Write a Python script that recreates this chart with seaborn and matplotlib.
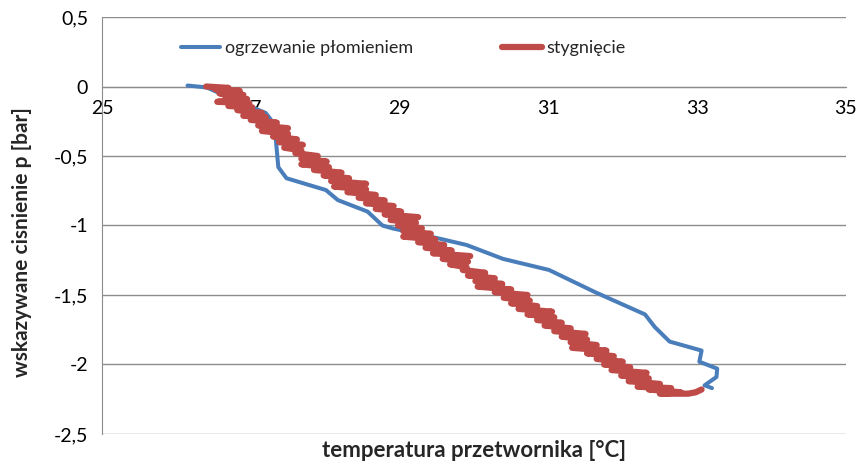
import numpy as np
import pandas as pd
import matplotlib
matplotlib.use("Agg")
import matplotlib.pyplot as plt
import seaborn as sns

# heating curve (blue)
heat_t = [26.15, 26.41, 26.86, 27.20, 27.33, 27.34, 27.37, 27.48, 28.01, 28.17,
          28.57, 28.77, 28.90, 29.19, 29.50, 29.90, 30.39, 31.01, 31.63, 32.30,
          32.43, 32.63, 33.06, 33.03, 33.27, 33.26, 33.10, 33.20]
heat_p = [0.007, -0.007, -0.115, -0.19, -0.28, -0.40, -0.58, -0.66, -0.745, -0.817,
          -0.90, -1.00, -1.02, -1.054, -1.09, -1.14, -1.24, -1.32, -1.48, -1.64,
          -1.73, -1.835, -1.90, -1.98, -2.03, -2.09, -2.15, -2.17]

# cooling curve (red, noisy readings)
cool_t = [26.40, 26.70, 26.52, 26.85, 26.58, 26.90, 26.66, 26.95, 26.55, 26.98,
          26.70, 27.02, 26.82, 27.15, 26.90, 27.20, 27.00, 27.35, 27.10, 27.50,
          27.15, 27.50, 27.30, 27.62, 27.38, 27.70, 27.45, 27.68, 27.60, 27.90,
          27.68, 28.02, 27.68, 28.05, 27.85, 28.22, 27.98, 28.32, 28.08, 28.55,
          28.12, 28.55, 28.30, 28.68, 28.45, 28.80, 28.55, 28.92, 28.68, 29.02,
          28.80, 29.25, 28.88, 29.22, 28.98, 29.30, 29.05, 29.42, 29.05, 29.48,
          29.25, 29.60, 29.35, 29.70, 29.45, 29.95, 29.58, 29.92, 29.68, 29.90,
          29.85, 30.15, 29.92, 30.28, 30.02, 30.38, 30.05, 30.50, 30.28, 30.72,
          30.40, 30.75, 30.50, 30.85, 30.60, 31.05, 30.72, 31.08, 30.85, 31.18,
          30.95, 31.30, 31.08, 31.50, 31.18, 31.52, 31.30, 31.65, 31.32, 31.78,
          31.52, 31.88, 31.65, 32.00, 31.75, 32.10, 31.85, 32.32, 31.98, 32.35,
          32.08, 32.50, 32.20, 32.65, 32.35, 32.78, 32.50, 32.88, 32.98, 33.06]
cool_p = [0.00, -0.01, -0.02, -0.03, -0.05, -0.06, -0.08, -0.09, -0.11, -0.12,
          -0.14, -0.15, -0.17, -0.19, -0.21, -0.22, -0.24, -0.26, -0.28, -0.30,
          -0.32, -0.34, -0.36, -0.38, -0.40, -0.42, -0.44, -0.46, -0.48, -0.50,
          -0.52, -0.54, -0.56, -0.58, -0.60, -0.62, -0.64, -0.66, -0.68, -0.70,
          -0.72, -0.74, -0.76, -0.78, -0.80, -0.82, -0.84, -0.86, -0.88, -0.90,
          -0.92, -0.94, -0.96, -0.98, -1.00, -1.02, -1.04, -1.06, -1.08, -1.10,
          -1.12, -1.14, -1.16, -1.18, -1.20, -1.22, -1.24, -1.26, -1.28, -1.30,
          -1.32, -1.34, -1.36, -1.38, -1.40, -1.42, -1.44, -1.46, -1.48, -1.50,
          -1.52, -1.54, -1.56, -1.58, -1.60, -1.62, -1.64, -1.66, -1.68, -1.70,
          -1.72, -1.74, -1.76, -1.78, -1.80, -1.82, -1.84, -1.86, -1.88, -1.90,
          -1.92, -1.94, -1.96, -1.98, -2.00, -2.02, -2.04, -2.06, -2.08, -2.10,
          -2.12, -2.14, -2.16, -2.17, -2.18, -2.20, -2.21, -2.21, -2.20, -2.18]

x_ticks = [25, 27, 29, 31, 33, 35]
y_ticks = [-2.5, -2.0, -1.5, -1.0, -0.5, 0.0, 0.5]
y_tick_labels = ["-2,5", "-2", "-1,5", "-1", "-0,5", "0", "0,5"]

sns.set_style("white")
plt.rcParams['font.family'] = ['Lato', 'DejaVu Sans']

fig = plt.figure(figsize=(8.6, 4.66), dpi=100)
ax = fig.add_axes([0.1186, 0.0687, 0.865, 0.8948])

heat = pd.DataFrame({'t': heat_t, 'p': heat_p})
cool = pd.DataFrame({'t': cool_t, 'p': cool_p})

sns.lineplot(data=heat, x='t', y='p', sort=False, estimator=None, ax=ax,
             color='#4A7EBB', linewidth=2.9, label='ogrzewanie płomieniem', zorder=3)
sns.lineplot(data=cool, x='t', y='p', sort=False, estimator=None, ax=ax,
             color='#BE4B48', linewidth=4.5, label='stygnięcie', zorder=4)

ax.set_xlim(25, 35)
ax.set_ylim(-2.5, 0.5)
ax.set_xticks(x_ticks)
ax.set_xticklabels([str(v) for v in x_ticks])
ax.set_yticks(y_ticks)
ax.set_yticklabels(y_tick_labels)

ax.yaxis.grid(True, color='#8c8c8c', linewidth=1)
ax.xaxis.grid(False)
for s in ['top', 'right']:
    ax.spines[s].set_visible(False)
ax.spines['bottom'].set_position(('data', 0))
ax.spines['bottom'].set_color('#8c8c8c')
ax.spines['left'].set_color('#8c8c8c')
ax.tick_params(axis='both', labelsize=14, colors='#8c8c8c', labelcolor='black',
               direction='out', length=6, width=1)
ax.tick_params(axis='y', pad=4)

ax.set_xlabel('')
ax.set_ylabel('')
fig.text(0.551, 0.034, 'temperatura przetwornika [°C]', ha='center', va='center',
         fontsize=16, fontweight='bold')
fig.text(0.026, 0.48, 'wskazywane cisnienie p [bar]', ha='center', va='center',
         rotation=90, fontsize=15, fontweight='bold')

ax.legend(loc='center', bbox_to_anchor=(0.405, 0.926), ncol=2, frameon=False,
          fontsize=13, handlelength=2.2, handletextpad=0.28, columnspacing=4.9)

fig.savefig('out.png', dpi=100)
